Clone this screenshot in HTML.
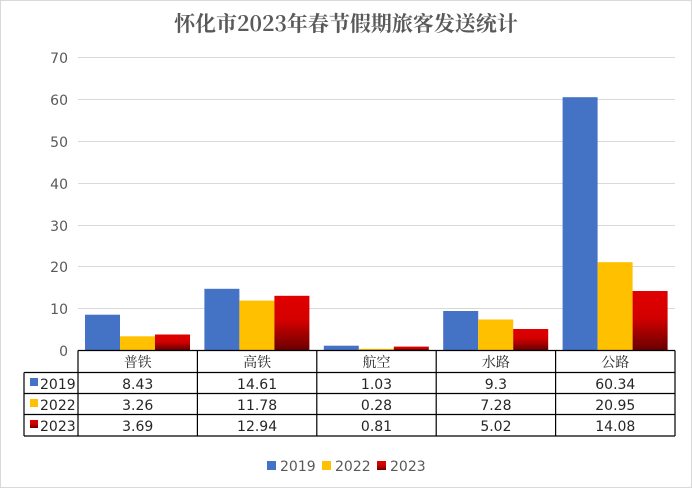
<!DOCTYPE html>
<html><head><meta charset="utf-8"><style>
html,body{margin:0;padding:0;background:#fff;}
svg text{font-family:"DejaVu Sans","Liberation Sans","Noto Sans CJK SC",sans-serif;}
</style></head><body>
<svg width="692" height="488" xmlns="http://www.w3.org/2000/svg">
<defs>
<linearGradient id="rg" x1="0" y1="0" x2="0" y2="1">
<stop offset="0" stop-color="#e00000"/><stop offset="0.45" stop-color="#d40000"/><stop offset="1" stop-color="#6a0000"/>
</linearGradient>
</defs>
<rect x="0.5" y="0.5" width="691" height="487" fill="#fff" stroke="#d9d9d9"/>
<text x="346" y="31" text-anchor="middle" font-size="21" font-weight="bold" fill="#595959" style="font-family:'Noto Serif CJK SC','Liberation Serif',serif">怀化市2023年春节假期旅客发送统计</text>
<g stroke="#d9d9d9" stroke-width="1">
<line x1="78" x2="675" y1="57.5" y2="57.5"/>
<line x1="78" x2="675" y1="99.5" y2="99.5"/>
<line x1="78" x2="675" y1="141.5" y2="141.5"/>
<line x1="78" x2="675" y1="183.5" y2="183.5"/>
<line x1="78" x2="675" y1="225.5" y2="225.5"/>
<line x1="78" x2="675" y1="266.5" y2="266.5"/>
<line x1="78" x2="675" y1="308.5" y2="308.5"/>
</g>
<g font-size="14" fill="#595959" text-anchor="end">
<text x="68" y="63">70</text><text x="68" y="105">60</text><text x="68" y="147">50</text>
<text x="68" y="189">40</text><text x="68" y="231">30</text><text x="68" y="272">20</text>
<text x="68" y="314">10</text><text x="68" y="356">0</text>
</g>
<g>
<rect x="85" y="314.7" width="35" height="35.3" fill="#4472c4"/>
<rect x="120" y="336.3" width="35" height="13.7" fill="#ffc000"/>
<rect x="155" y="334.5" width="35" height="15.5" fill="url(#rg)"/>
<rect x="204.4" y="288.8" width="35" height="61.2" fill="#4472c4"/>
<rect x="239.4" y="300.6" width="35" height="49.4" fill="#ffc000"/>
<rect x="274.4" y="295.8" width="35" height="54.2" fill="url(#rg)"/>
<rect x="323.8" y="345.7" width="35" height="4.3" fill="#4472c4"/>
<rect x="358.8" y="348.8" width="35" height="1.2" fill="#ffc000"/>
<rect x="393.8" y="346.6" width="35" height="3.4" fill="url(#rg)"/>
<rect x="443.2" y="311" width="35" height="39" fill="#4472c4"/>
<rect x="478.2" y="319.5" width="35" height="30.5" fill="#ffc000"/>
<rect x="513.2" y="329" width="35" height="21" fill="url(#rg)"/>
<rect x="562.6" y="97.2" width="35" height="252.8" fill="#4472c4"/>
<rect x="597.6" y="262.2" width="35" height="87.8" fill="#ffc000"/>
<rect x="632.6" y="291" width="35" height="59" fill="url(#rg)"/>
</g>
<g stroke="#000" stroke-width="1.2" fill="none">
<line x1="78" x2="675" y1="350.5" y2="350.5"/>
<line x1="24" x2="675" y1="372.5" y2="372.5"/>
<line x1="24" x2="675" y1="393.5" y2="393.5"/>
<line x1="24" x2="675" y1="414.5" y2="414.5"/>
<line x1="24" x2="675" y1="436" y2="436"/>
<line x1="24" x2="24" y1="372.5" y2="436"/>
<line x1="78" x2="78" y1="350.5" y2="436"/>
<line x1="197.4" x2="197.4" y1="350.5" y2="436"/>
<line x1="316.8" x2="316.8" y1="350.5" y2="436"/>
<line x1="436.2" x2="436.2" y1="350.5" y2="436"/>
<line x1="555.6" x2="555.6" y1="350.5" y2="436"/>
<line x1="675" x2="675" y1="350.5" y2="436"/>
</g>
<g font-size="14" fill="#262626" text-anchor="middle">
<text x="137.7" y="367" style="font-family:'Noto Serif CJK SC',serif">普铁</text>
<text x="257.1" y="367" style="font-family:'Noto Serif CJK SC',serif">高铁</text>
<text x="376.5" y="367" style="font-family:'Noto Serif CJK SC',serif">航空</text>
<text x="495.9" y="367" style="font-family:'Noto Serif CJK SC',serif">水路</text>
<text x="615.3" y="367" style="font-family:'Noto Serif CJK SC',serif">公路</text>
<text x="137.7" y="389">8.43</text><text x="257.1" y="389">14.61</text><text x="376.5" y="389">1.03</text><text x="495.9" y="389">9.3</text><text x="615.3" y="389">60.34</text>
<text x="137.7" y="410">3.26</text><text x="257.1" y="410">11.78</text><text x="376.5" y="410">0.28</text><text x="495.9" y="410">7.28</text><text x="615.3" y="410">20.95</text>
<text x="137.7" y="431">3.69</text><text x="257.1" y="431">12.94</text><text x="376.5" y="431">0.81</text><text x="495.9" y="431">5.02</text><text x="615.3" y="431">14.08</text>
</g>
<g font-size="14" fill="#262626">
<rect x="30" y="378" width="8" height="8" fill="#4472c4"/><text x="40" y="389">2019</text>
<rect x="30" y="399" width="8" height="8" fill="#ffc000"/><text x="40" y="410">2022</text>
<rect x="30" y="420" width="8" height="8" fill="url(#rg)"/><text x="40" y="431">2023</text>
</g>
<g font-size="14" fill="#595959">
<rect x="267" y="461" width="9" height="9" fill="#4472c4"/><text x="280" y="471">2019</text>
<rect x="322" y="461" width="9" height="9" fill="#ffc000"/><text x="335" y="471">2022</text>
<rect x="377" y="461" width="9" height="9" fill="url(#rg)"/><text x="390" y="471">2023</text>
</g>
</svg>
</body></html>
